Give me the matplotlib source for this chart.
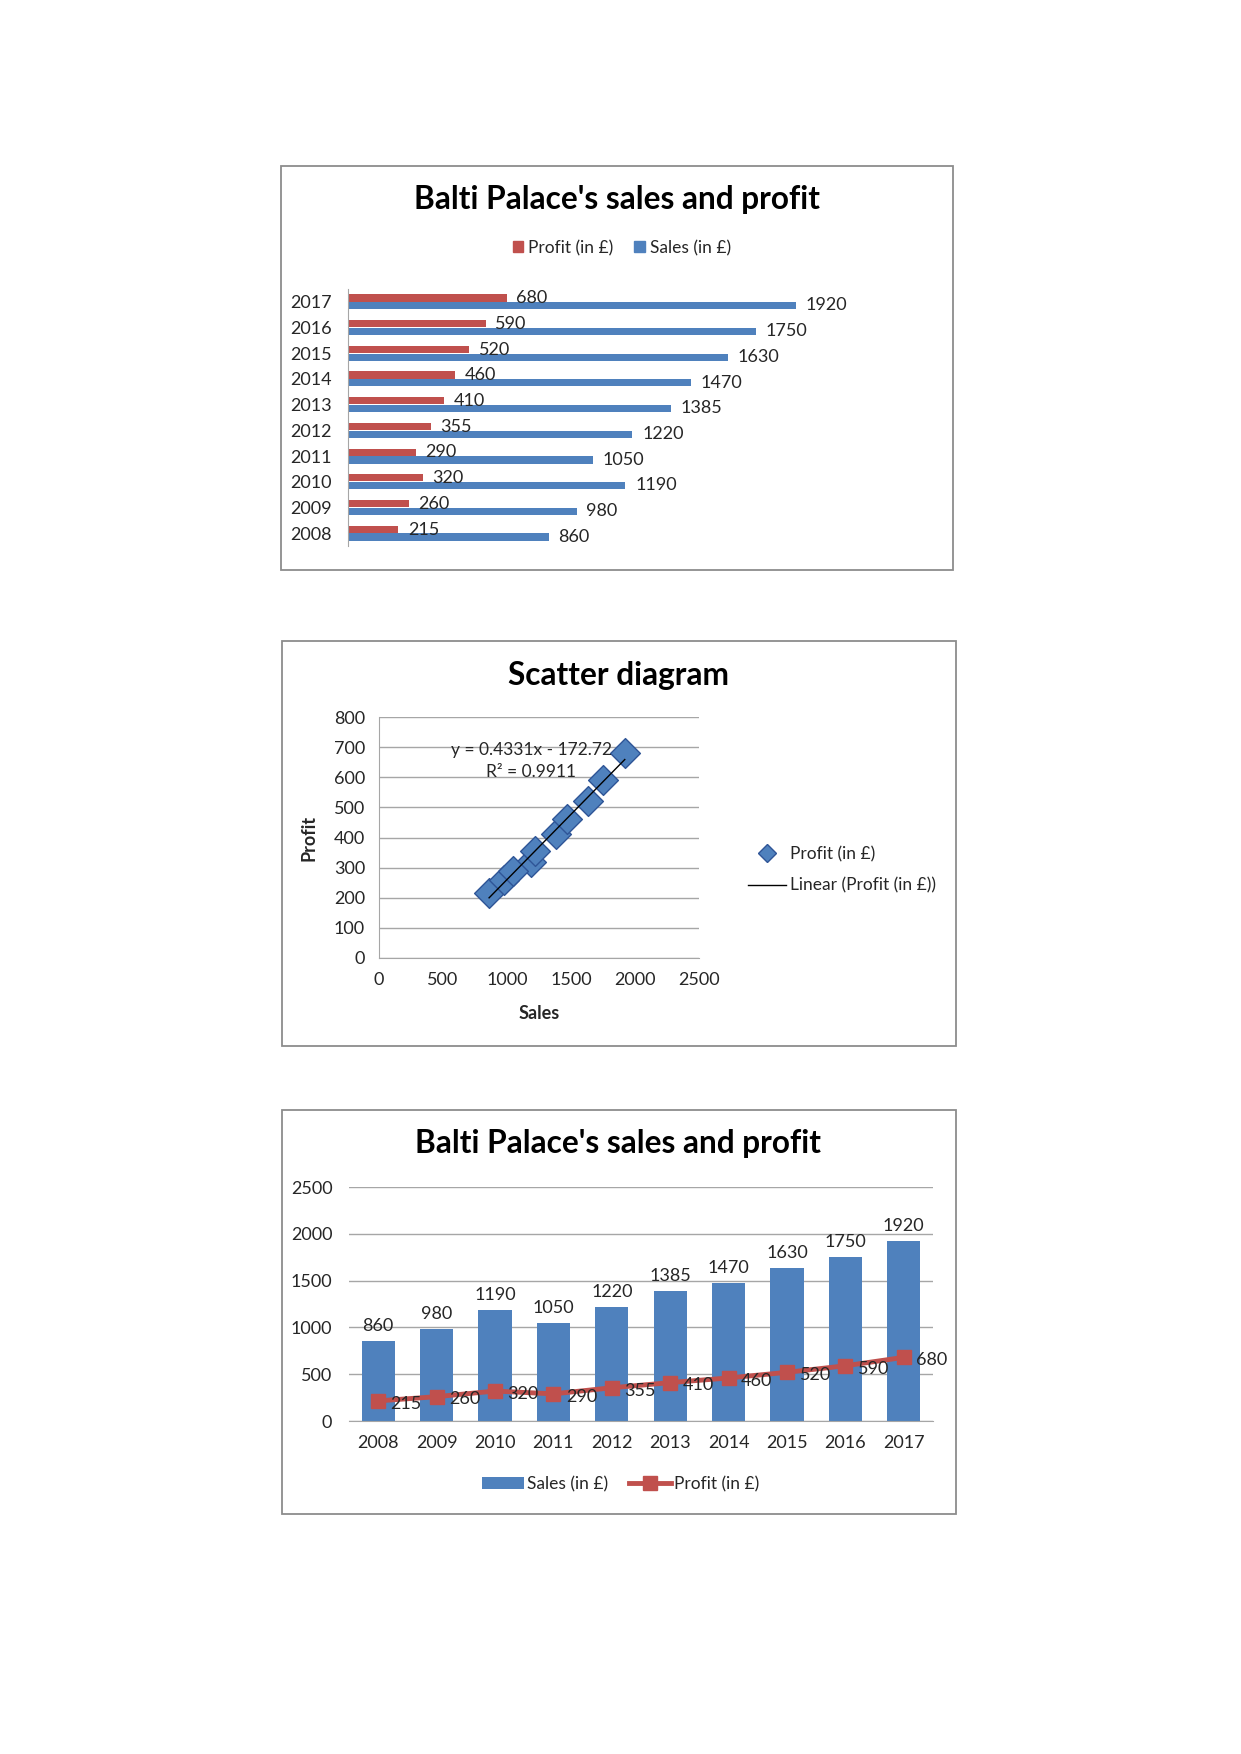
import numpy as np
import matplotlib.pyplot as plt
from matplotlib.patches import Rectangle
from matplotlib.lines import Line2D

plt.rcParams['font.family'] = ['Lato', 'DejaVu Sans']

years = [2008, 2009, 2010, 2011, 2012, 2013, 2014, 2015, 2016, 2017]
sales = [860, 980, 1190, 1050, 1220, 1385, 1470, 1630, 1750, 1920]
profit = [215, 260, 320, 290, 355, 410, 460, 520, 590, 680]
title_main = "Balti Palace's sales and profit"
lab_sales = "Sales (in £)"
lab_profit = "Profit (in £)"

BLUE = '#4F81BD'
RED = '#C0504D'
GRID = '#A6A6A6'
TXT = '#262626'

W, H = 1241, 1754
fig = plt.figure(figsize=(W / 100, H / 100), dpi=100)

def ax_px(x0, y0, x1, y1):
    # axes from pixel box (top-left origin)
    return fig.add_axes([x0 / W, 1 - y1 / H, (x1 - x0) / W, (y1 - y0) / H])

def box_px(x0, y0, x1, y1):
    fig.patches.append(Rectangle((x0 / W, 1 - y1 / H), (x1 - x0) / W, (y1 - y0) / H,
                                 transform=fig.transFigure, fill=False,
                                 edgecolor='#8C8C8C', lw=1.3))

def fx(x):
    return x / W

def fy(y):
    return 1 - y / H

# ---------- chart 1 : horizontal bars ----------
box_px(281, 166, 953, 570)
fig.text(fx(617), fy(199), title_main, ha='center', va='center', fontsize=22.8,
         fontweight='bold', color='black')
ax1 = ax_px(348, 289, 861, 546)
idx = np.arange(len(years))
bh = 0.28
ax1.barh(idx + bh / 2 + 0.01, profit, height=bh, color=RED, label=lab_profit)
ax1.barh(idx - bh / 2 - 0.01, sales, height=bh, color=BLUE, label=lab_sales)
for i in idx:
    ax1.annotate(str(profit[i]), (profit[i], i + bh / 2), xytext=(7, 0),
                 textcoords='offset points', va='center', ha='left', fontsize=13, color=TXT)
    ax1.annotate(str(sales[i]), (sales[i], i - bh / 2), xytext=(7, 0),
                 textcoords='offset points', va='center', ha='left', fontsize=13, color=TXT)
ax1.set_xlim(0, 2200)
ax1.set_ylim(-0.5, 9.5)
ax1.set_yticks(idx)
ax1.set_yticklabels([str(y) for y in years], fontsize=13, color=TXT)
ax1.tick_params(axis='y', length=0, pad=12)
ax1.set_xticks([])
for s in ['top', 'right', 'bottom']:
    ax1.spines[s].set_visible(False)
ax1.spines['left'].set_color(GRID)
h1 = [Rectangle((0, 0), 1, 1, color=RED), Rectangle((0, 0), 1, 1, color=BLUE)]
fig.legend(h1, [lab_profit, lab_sales], loc='center', bbox_to_anchor=(fx(622), fy(248)),
           ncol=2, frameon=False, fontsize=12.5, handlelength=0.6, handleheight=0.6,
           handletextpad=0.3, columnspacing=1.2, labelcolor=TXT)

# ---------- chart 2 : scatter ----------
box_px(282, 641, 956, 1046)
fig.text(fx(618), fy(676), 'Scatter diagram', ha='center', va='center', fontsize=22.8,
         fontweight='bold', color='black')
ax2 = ax_px(379, 717, 699, 958)
ax2.scatter(sales, profit, marker='D', s=230, color=BLUE, edgecolor='#2F5597',
            linewidth=1, zorder=3)
coef = np.polyfit(sales, profit, 1)
xs = np.array([min(sales), max(sales)])
ax2.plot(xs, np.polyval(coef, xs), color='black', lw=1, zorder=4)
ax2.text(1188, 691, 'y = 0.4331x - 172.72', ha='center', va='center', fontsize=12.5, color=TXT)
ax2.text(1188, 617, 'R² = 0.9911', ha='center', va='center', fontsize=12.5, color=TXT)
ax2.set_xlim(0, 2500)
ax2.set_ylim(0, 800)
ax2.set_xticks(range(0, 2501, 500))
ax2.set_yticks(range(0, 801, 100))
ax2.tick_params(labelsize=13, colors=TXT, length=0, pad=10)
ax2.grid(axis='y', color=GRID, lw=1)
ax2.set_axisbelow(True)
for s in ['top', 'right']:
    ax2.spines[s].set_visible(False)
for s in ['left', 'bottom']:
    ax2.spines[s].set_color(GRID)
ax2.set_xlabel('Sales', fontsize=13, fontweight='bold', color=TXT, labelpad=12)
ax2.set_ylabel('Profit', fontsize=13, fontweight='bold', color=TXT, labelpad=12)
h2 = [Line2D([], [], marker='D', ls='none', color=BLUE, markeredgecolor='#2F5597', markersize=9),
      Line2D([], [], color='black', lw=1)]
fig.legend(h2, [lab_profit, 'Linear (Profit (in £))'], loc='center left',
           bbox_to_anchor=(fx(748), fy(870)), frameon=False, fontsize=12.5,
           handlelength=2.2, handletextpad=0.2, labelspacing=0.9, labelcolor=TXT,
           borderpad=0, borderaxespad=0)

# ---------- chart 3 : columns + line ----------
box_px(282, 1110, 956, 1514)
fig.text(fx(618), fy(1144), title_main, ha='center', va='center', fontsize=22.8,
         fontweight='bold', color='black')
ax3 = ax_px(349, 1187, 933, 1421)
b3 = ax3.bar(idx, sales, width=0.57, color=BLUE, zorder=2)
l3, = ax3.plot(idx, profit, color=RED, lw=3.5, marker='s', markersize=10, zorder=3)
for i in idx:
    ax3.annotate(str(sales[i]), (i, sales[i]), xytext=(0, 5), textcoords='offset points',
                 ha='center', va='bottom', fontsize=13, color=TXT)
    ax3.annotate(str(profit[i]), (i, profit[i]), xytext=(9, -2), textcoords='offset points',
                 ha='left', va='center', fontsize=13, color=TXT, zorder=4)
ax3.set_xlim(-0.5, 9.5)
ax3.set_ylim(0, 2500)
ax3.set_yticks(range(0, 2501, 500))
ax3.set_xticks(idx)
ax3.set_xticklabels([str(y) for y in years])
ax3.tick_params(labelsize=13, colors=TXT, length=0, pad=10)
ax3.tick_params(axis='y', pad=12)
ax3.grid(axis='y', color=GRID, lw=1)
ax3.set_axisbelow(True)
for s in ['top', 'right', 'left']:
    ax3.spines[s].set_visible(False)
ax3.spines['bottom'].set_color(GRID)
fig.legend([b3, l3], [lab_sales, lab_profit], loc='center', bbox_to_anchor=(fx(621), fy(1484)),
           ncol=2, frameon=False, fontsize=12.5, handlelength=2.4, handletextpad=0.2,
           columnspacing=1.2, labelcolor=TXT)

fig.savefig('out.png', dpi=100, facecolor='white')
